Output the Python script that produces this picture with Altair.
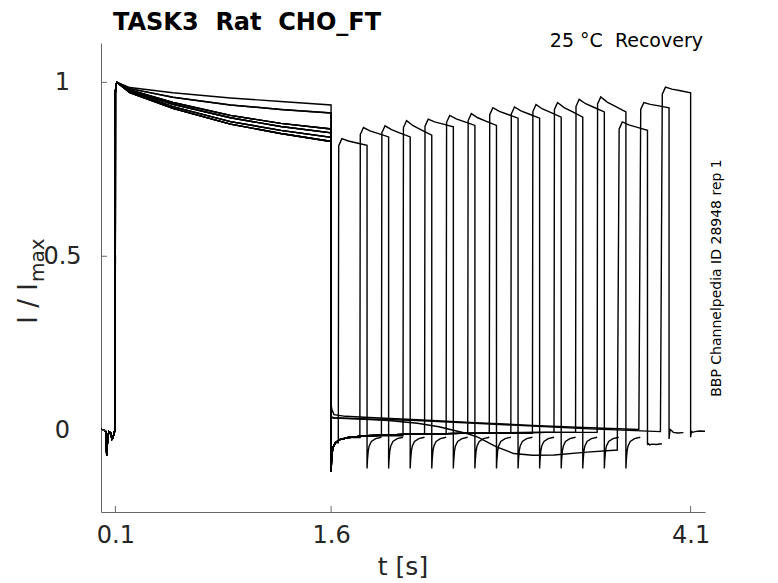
import altair as alt
import pandas as pd

# ---------------- values ----------------
x_ticks = [0.1, 1.6, 4.1]
y_ticks = [0.0, 0.5, 1.0]

# holding baseline before the first pulse
pre_t = [0.0, 0.02, 0.033, 0.040, 0.047, 0.056, 0.068, 0.076, 0.084, 0.092, 0.099]
pre_v = [0.002, 0.001, -0.004, -0.072, -0.018, -0.004, -0.008, -0.026, -0.021, -0.006, 0.0]

# first (conditioning) pulse 0.1 .. 1.6 s
first_t = [0.1, 0.104, 0.11, 0.2, 0.5, 0.9, 1.25, 1.6]
first_levels = {
    "A":  [0.97, 0.99, 1.0, 0.985, 0.970, 0.955, 0.945, 0.935],
    "B":  [0.97, 0.99, 1.0, 0.982, 0.957, 0.935, 0.922, 0.912],
    "C":  [0.97, 0.99, 1.0, 0.978, 0.942, 0.905, 0.882, 0.866],
    "D1": [0.97, 0.99, 1.0, 0.976, 0.937, 0.898, 0.873, 0.855],
    "D2": [0.97, 0.99, 1.0, 0.973, 0.930, 0.887, 0.862, 0.842],
    "D3": [0.97, 0.99, 1.0, 0.970, 0.925, 0.880, 0.853, 0.830],
}
sweep_group = ["D3", "D2", "D1", "D3", "C", "D2", "D3", "D1",
               "B", "D2", "C", "D3", "D1", "C", "B", "A"]

# tail after the first pulse (time after 1.6 s)
tail1_dt = [0.0, 0.003, 0.008, 0.015, 0.03, 0.06, 0.12, 0.25, 0.5, 0.9, 1.5, 2.3]
tail1_v = [-0.12, -0.085, -0.062, -0.048, -0.036, -0.027, -0.021, -0.016,
           -0.012, -0.009, -0.006, -0.004]

# sweeps whose inter-pulse baseline differs
gap_t = {
    13: [1.6, 1.62, 1.8, 2.0, 2.2, 2.35, 2.45, 2.55, 2.62, 2.75, 2.87, 3.0, 3.15, 3.38, 3.59],
    14: [1.6, 1.605, 1.62, 1.7, 1.9, 2.2, 2.6, 3.0, 3.4, 3.74],
    15: [1.6, 1.62, 1.8, 2.2, 2.6, 3.0, 3.4, 3.89],
}
gap_v = {
    13: [0.036, 0.035, 0.032, 0.028, 0.02, 0.01, 0.0, -0.01, -0.02, -0.048, -0.067,
         -0.072, -0.071, -0.063, -0.057],
    14: [0.075, 0.06, 0.045, 0.04, 0.036, 0.03, 0.022, 0.014, 0.007, 0.002],
    15: [0.038, 0.036, 0.033, 0.028, 0.02, 0.012, 0.004, -0.004],
}

# second (test) pulse: start, peak and end level per sweep
pulse2_start = [1.65, 1.80, 1.95, 2.10, 2.25, 2.40, 2.55, 2.70,
                2.85, 3.00, 3.15, 3.30, 3.45, 3.60, 3.75, 3.90]
pulse2_peak = [0.838, 0.870, 0.875, 0.890, 0.894, 0.905, 0.910, 0.927,
               0.929, 0.936, 0.942, 0.951, 0.958, 0.886, 0.942, 0.986]
pulse2_end = [0.819, 0.843, 0.843, 0.848, 0.872, 0.876, 0.876, 0.897,
              0.897, 0.900, 0.900, 0.915, 0.915, 0.862, 0.927, 0.970]
pulse2_len = 0.2
rise_dt = [0.003, 0.012]
rise_drop = [0.02, 0.012]
decay_dt = [0.025, 0.07, 0.13, 0.2]
decay_frac = [0.0, 0.35, 0.65, 1.0]

# tail after the second pulse
post_dt = [0.0, 0.003, 0.008, 0.015, 0.03, 0.06, 0.1]
post_v = [-0.11, -0.085, -0.06, -0.045, -0.032, -0.024, -0.02]
post_special = {
    13: [-0.04, -0.041, -0.039, -0.042, -0.04, -0.041, -0.039],
    14: [-0.025, -0.012, 0.002, 0.0, -0.006, -0.008, -0.007],
    15: [-0.02, -0.01, -0.004, -0.006, -0.004, -0.002, -0.003],
}

# ---------------- build the table ----------------
rows = []
for i in range(16):
    pts = list(zip(pre_t, pre_v))
    pts += list(zip(first_t, first_levels[sweep_group[i]]))
    s = pulse2_start[i]
    if i in gap_t:
        pts += list(zip(gap_t[i], gap_v[i]))
    else:
        last = tail1_v[0]
        for dt, v in zip(tail1_dt, tail1_v):
            if 1.6 + dt < s:
                pts.append((1.6 + dt, v))
                last = v
        pts.append((s, last))
    P, Q = pulse2_peak[i], pulse2_end[i]
    for dt, d in zip(rise_dt, rise_drop):
        pts.append((s + dt, P - d))
    for dt, f in zip(decay_dt, decay_frac):
        pts.append((s + dt, P - f * (P - Q)))
    pv = post_special.get(i, post_v)
    for dt, v in zip(post_dt, pv):
        pts.append((s + pulse2_len + dt, v))
    for k, (t, v) in enumerate(pts):
        rows.append({"sweep": i, "k": k, "t": t, "v": v})

df = pd.DataFrame(rows)

# ---------------- chart ----------------
xscale = alt.Scale(domain=[0, 4.2], nice=False, zero=False)
yscale = alt.Scale(domain=[-0.235, 1.113], nice=False, zero=False)

x_axis = alt.Axis(values=x_ticks, format=".1f", title=None, grid=False, ticks=False,
                  tickSize=0, labelPadding=11, labelFontSize=24, labelColor="#262626",
                  domainColor="#666666", labelFlush=False, labelOverlap=False)
y_axis = alt.Axis(values=y_ticks, format="~g", title=None, grid=False, ticks=False,
                  tickSize=0, labelPadding=39, labelFontSize=24, labelColor="#262626",
                  labelAlign="center", labelBaseline="middle",
                  domainColor="#666666", labelFlush=False, labelOverlap=False)

lines = alt.Chart(df).mark_line(color="black", strokeWidth=1.4).encode(
    x=alt.X("t:Q", scale=xscale, axis=x_axis),
    y=alt.Y("v:Q", scale=yscale, axis=y_axis),
    detail="sweep:N",
    order="k:Q",
)

xt = alt.Chart(pd.DataFrame({"t": x_ticks})).mark_rule(color="#666666").encode(
    x=alt.X("t:Q", scale=xscale, axis=x_axis),
    y=alt.value(469), y2=alt.value(463),
)
yt = alt.Chart(pd.DataFrame({"v": y_ticks})).mark_rule(color="#666666").encode(
    y=alt.Y("v:Q", scale=yscale, axis=y_axis),
    x=alt.value(0), x2=alt.value(6),
)


def label(txt, x, y, size, color="#262626", **kw):
    return alt.Chart(pd.DataFrame({"s": [txt]})).mark_text(
        fontSize=size, color=color, **kw
    ).encode(x=alt.value(x), y=alt.value(y), text="s:N")


title = label("TASK3\u00a0\u00a0Rat\u00a0\u00a0CHO_FT", 12, -12.7, 24, color="black",
              fontWeight="bold", align="left", baseline="alphabetic")
cond = label("25\u00a0°C\u00a0\u00a0Recovery", 602, -2, 19, color="black",
             align="right", baseline="middle")
side = label("BBP Channelpedia ID 28948 rep 1", 616, 235, 14, color="black",
             angle=270, align="center", baseline="middle")
xlab = label("t [s]", 302, 524, 25, align="center", baseline="middle")
ylab1 = label("I / I", -64, 240, 26, angle=270, align="right", baseline="alphabetic")
ylab2 = label("max", -57, 239, 20, angle=270, align="left", baseline="alphabetic")

chart = alt.layer(lines, xt, yt, title, cond, side, xlab, ylab1, ylab2).properties(
    width=604, height=469,
    padding={"left": 93, "top": 35, "right": 65, "bottom": 72},
    autosize=alt.AutoSizeParams(type="none"),
).configure(font="DejaVu Sans").configure_view(strokeWidth=0)

chart.save("out.html", embed_options={"renderer": "svg", "actions": False})
